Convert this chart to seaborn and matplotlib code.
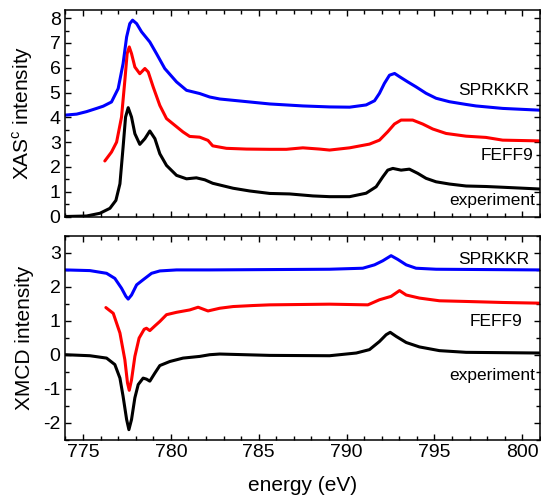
import pandas as pd
import matplotlib
matplotlib.use("Agg")
import matplotlib.pyplot as plt
import seaborn as sns
from matplotlib.ticker import MultipleLocator

sns.set_style("ticks", {"axes.edgecolor": "black", "xtick.color": "black", "ytick.color": "black",
                        "text.color": "black", "axes.labelcolor": "black"})
plt.rcParams['font.family'] = ['Liberation Sans', 'DejaVu Sans']
plt.rcParams['mathtext.fontset'] = 'custom'
plt.rcParams['mathtext.rm'] = 'Liberation Sans'

# --- XAS (top panel) ---
xas_exp_e = [774.0, 775.2, 775.96, 776.53, 776.87, 777.10, 777.28, 777.42, 777.57, 777.76,
             777.95, 778.23, 778.52, 778.80, 779.09, 779.37, 779.75, 780.32, 780.89, 781.45,
             781.93, 782.38, 783.54, 784.48, 785.62, 786.76, 788.08, 789.03, 790.17, 791.11,
             791.68, 792.06, 792.34, 792.63, 793.10, 793.57, 794.05, 794.52, 795.09, 795.85,
             796.80, 797.93, 798.88, 800.96]
xas_exp_i = [0.0, 0.02, 0.13, 0.33, 0.65, 1.32, 2.8, 4.01, 4.39, 4.01,
             3.34, 2.91, 3.14, 3.45, 3.14, 2.53, 2.06, 1.66, 1.52, 1.56,
             1.48, 1.34, 1.14, 1.03, 0.93, 0.91, 0.83, 0.80, 0.80, 0.94,
             1.20, 1.60, 1.87, 1.94, 1.87, 1.91, 1.74, 1.54, 1.40, 1.31,
             1.23, 1.21, 1.18, 1.11]

xas_feff_e = [776.24, 776.62, 776.91, 777.19, 777.38, 777.51, 777.63, 777.76, 777.95, 778.23,
              778.52, 778.71, 778.99, 779.37, 779.75, 780.22, 780.69, 781.07, 781.64, 782.11,
              782.38, 783.16, 784.3, 785.62, 786.57, 787.51, 788.46, 789.03, 790.17, 791.30,
              791.87, 792.34, 792.72, 793.10, 793.76, 794.33, 794.90, 795.66, 796.80, 797.93,
              798.88, 800.96]
xas_feff_i = [2.24, 2.6, 3.0, 4.01, 5.49, 6.57, 6.84, 6.57, 6.03, 5.76,
              5.97, 5.83, 5.23, 4.48, 3.95, 3.68, 3.41, 3.23, 3.2, 3.07,
              2.85, 2.75, 2.72, 2.71, 2.71, 2.77, 2.72, 2.68, 2.77, 2.92,
              3.08, 3.42, 3.73, 3.89, 3.89, 3.73, 3.53, 3.35, 3.24, 3.19,
              3.08, 3.05]

xas_kkr_e = [774.0, 774.64, 775.2, 775.77, 776.15, 776.62, 777.0, 777.28, 777.48, 777.66,
             777.82, 778.05, 778.33, 778.80, 779.18, 779.65, 780.32, 780.89, 781.64, 782.21,
             782.78, 783.92, 785.62, 787.51, 789.03, 790.17, 791.11, 791.59, 791.87, 792.15,
             792.44, 792.73, 793.01, 793.48, 793.95, 794.52, 795.09, 795.85, 796.80, 797.36,
             798.88, 800.96]
xas_kkr_i = [4.09, 4.13, 4.23, 4.36, 4.45, 4.62, 5.16, 6.17, 7.24, 7.78,
             7.92, 7.78, 7.45, 7.04, 6.57, 5.97, 5.43, 5.09, 4.96, 4.82,
             4.74, 4.66, 4.54, 4.46, 4.42, 4.41, 4.50, 4.67, 4.97, 5.37,
             5.70, 5.77, 5.64, 5.43, 5.23, 4.97, 4.77, 4.63, 4.52, 4.46,
             4.36, 4.29]

# --- XMCD (bottom panel) ---
xmcd_exp_e = [774.0, 775.39, 776.34, 776.81, 777.10, 777.28, 777.48, 777.61, 777.76, 777.95,
              778.14, 778.42, 778.61, 778.80, 779.09, 779.37, 779.94, 780.69, 781.64, 782.21,
              782.78, 785.62, 789.03, 790.55, 791.30, 791.87, 792.25, 792.48, 792.82, 793.39,
              794.14, 795.28, 796.80, 798.88, 800.96]
xmcd_exp_i = [0.0, -0.03, -0.10, -0.29, -0.69, -1.23, -1.91, -2.21, -1.91, -1.27,
              -0.88, -0.69, -0.72, -0.78, -0.54, -0.32, -0.20, -0.10, -0.05, 0.0,
              0.02, -0.02, -0.03, 0.05, 0.15, 0.39, 0.59, 0.66, 0.54, 0.36,
              0.23, 0.12, 0.07, 0.06, 0.05]

xmcd_feff_e = [776.30, 776.72, 777.10, 777.38, 777.53, 777.63, 777.76, 777.95, 778.19, 778.48,
               778.61, 778.80, 779.09, 779.37, 779.75, 780.32, 781.07, 781.55, 782.11, 782.78,
               783.54, 784.67, 785.62, 789.03, 791.21, 791.87, 792.53, 793.01, 793.39, 794.14,
               795.28, 796.80, 798.88, 800.96]
xmcd_feff_i = [1.39, 1.22, 0.64, -0.15, -0.83, -1.05, -0.74, -0.05, 0.49, 0.75,
               0.78, 0.71, 0.85, 0.98, 1.18, 1.25, 1.32, 1.40, 1.29, 1.37,
               1.42, 1.45, 1.47, 1.49, 1.47, 1.62, 1.72, 1.89, 1.76, 1.67,
               1.59, 1.57, 1.54, 1.52]

xmcd_kkr_e = [774.0, 775.39, 776.34, 776.81, 777.19, 777.44, 777.57, 777.76, 778.05, 778.42,
              778.90, 779.37, 780.32, 782.21, 789.03, 790.92, 791.59, 792.06, 792.53, 792.91,
              793.39, 793.95, 795.09, 800.96]
xmcd_kkr_i = [2.5, 2.48, 2.40, 2.25, 1.96, 1.72, 1.64, 1.76, 2.06, 2.21,
              2.40, 2.47, 2.50, 2.50, 2.52, 2.55, 2.65, 2.77, 2.92, 2.81,
              2.65, 2.55, 2.52, 2.5]

series_names = ['experiment', 'FEFF9', 'SPRKKR']
series_colors = {'experiment': 'black', 'FEFF9': '#ff0000', 'SPRKKR': '#0000ff'}

# label positions (x, y) per panel
xas_labels = {'SPRKKR': (800.4, 5.09), 'FEFF9': (800.6, 2.46), 'experiment': (800.7, 0.65)}
xmcd_labels = {'SPRKKR': (800.4, 2.82), 'FEFF9': (800.0, 0.97), 'experiment': (800.7, -0.62)}


def make_df(e_lists, i_lists):
    frames = []
    for name, e, i in zip(series_names, e_lists, i_lists):
        frames.append(pd.DataFrame({'energy': e, 'intensity': i, 'calc': name}))
    return pd.concat(frames, ignore_index=True)


df_xas = make_df([xas_exp_e, xas_feff_e, xas_kkr_e], [xas_exp_i, xas_feff_i, xas_kkr_i])
df_xmcd = make_df([xmcd_exp_e, xmcd_feff_e, xmcd_kkr_e], [xmcd_exp_i, xmcd_feff_i, xmcd_kkr_i])

fig = plt.figure(figsize=(5.41, 5.0), dpi=100)
ax1 = fig.add_axes([0.121, 0.567, 0.877, 0.414])
ax2 = fig.add_axes([0.121, 0.121, 0.877, 0.407])

for ax, df, labels in [(ax1, df_xas, xas_labels), (ax2, df_xmcd, xmcd_labels)]:
    sns.lineplot(data=df, x='energy', y='intensity', hue='calc', palette=series_colors,
                 sort=False, estimator=None, linewidth=2.2, legend=False, ax=ax)
    for line in ax.get_lines():
        line.set_solid_joinstyle('round')
        line.set_solid_capstyle('round')
    for name, (lx, ly) in labels.items():
        ax.text(lx, ly, name, ha='right', va='center', fontsize=12.5)
    ax.set_xlim(774, 801)
    ax.xaxis.set_major_locator(MultipleLocator(5))
    ax.xaxis.set_minor_locator(MultipleLocator(1))
    ax.yaxis.set_major_locator(MultipleLocator(1))
    ax.yaxis.set_minor_locator(MultipleLocator(0.5))
    ax.tick_params(which='both', direction='in', top=True, right=True, labelsize=14, width=1.0)
    ax.tick_params(which='major', length=4.5)
    ax.tick_params(which='minor', length=3)
    for sp in ax.spines.values():
        sp.set_linewidth(1.1)

ax1.set_ylim(0, 8.35)
ax1.tick_params(labelbottom=False)
ax1.set_xlabel('')
ax1.set_ylabel('XAS$^{\\mathrm{c}}$ intensity', fontsize=15)

ax2.set_ylim(-2.5, 3.5)
ax2.set_yticks([-2, -1, 0, 1, 2, 3])
ax2.set_yticklabels(['-2', '-1', '0', '1', '2', '3'])
ax2.set_ylabel('XMCD intensity', fontsize=15)
ax2.set_xlabel('energy (eV)', fontsize=15)

ax1.yaxis.set_label_coords(-0.064, 0.5)
ax2.yaxis.set_label_coords(-0.066, 0.5)
ax2.xaxis.set_label_coords(0.5, -0.18)

fig.savefig('out.png', dpi=100)
